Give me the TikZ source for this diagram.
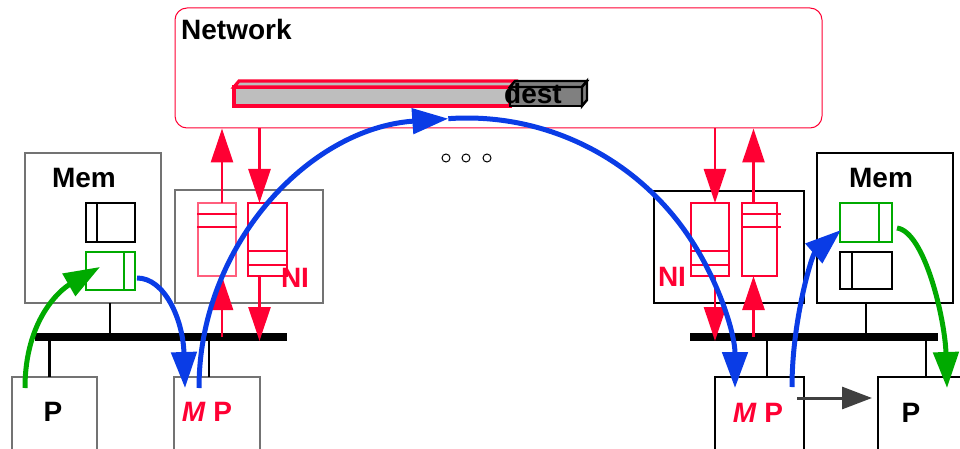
\documentclass[tikz,border=0pt]{standalone}
\usepackage{fontspec}
\setmainfont{Liberation Sans}
\definecolor{netred}{RGB}{255,0,51}
\definecolor{palered}{RGB}{255,95,125}
\definecolor{msgblue}{RGB}{10,60,230}
\definecolor{memgreen}{RGB}{0,170,0}
\definecolor{bargray}{RGB}{190,190,190}
\definecolor{destgray}{RGB}{128,128,128}
\usetikzlibrary{arrows.meta,calc}

\begin{document}
\begin{tikzpicture}[x=1pt,y=-1pt,
    unit/.style={draw=black,line width=2.4pt,inner sep=0pt,outer sep=0pt},
    faint/.style={unit,draw=black!55,line width=1.3pt},
    queue/.style={draw=netred,line width=2.6pt,minimum height=73,inner sep=0pt,outer sep=0pt},
    qline/.style={netred,line width=2.8pt},
    lbl/.style={font=\fontsize{28}{32}\selectfont\bfseries,inner sep=0pt},
    redarr/.style={netred,line width=2.6pt,-{Triangle[length=34pt,width=22pt]}},
    bluearr/.style={msgblue,line width=5pt,-{Triangle[length=36pt,width=25pt]}},
    greenarr/.style={memgreen,line width=5pt,-{Triangle[length=36pt,width=25pt]}},
    bus/.style={line width=8pt},
    stub/.style={line width=2.4pt}]
  \useasboundingbox (0,0) rectangle (960,449);

  % network
  \node[draw=netred,line width=1pt,rounded corners=12pt,minimum width=647,minimum height=120] (net) at (498.5,68) {};
  \node[lbl,anchor=west] (nettxt) at (181,29) {Network};
  \draw[netred,line width=3.2pt,fill=bargray] (234,87) rectangle (510,106);
  \draw[netred,line width=3.2pt,fill=bargray] (234,87) -- (239,81) -- (515,81) -- (510,87) -- cycle;
  \draw[line width=2.4pt,fill=destgray] (510,87) rectangle (582,106);
  \draw[line width=2.4pt,fill=destgray] (510,87) -- (515,81) -- (587,81) -- (582,87) -- cycle;
  \draw[line width=2.4pt,fill=destgray] (582,87) -- (587,81) -- (587,100) -- (582,106) -- cycle;
  \node[lbl] (dest) at (533,93) {dest};
  \foreach \x in {446,466,487}
    \draw[line width=1pt] (\x,158) circle[radius=4];

  % left node
  \node[faint,minimum width=136,minimum height=150] (memL) at (93,228) {};
  \node[lbl] (memLtxt) at (84,178) {Mem};
  \node[unit,minimum width=49,minimum height=39] (bufL) at (110.5,222.5) {};
  \draw[line width=2.4pt] ([xshift=11]bufL.north west) -- ([xshift=11]bufL.south west);
  \node[unit,draw=memgreen,minimum width=49,minimum height=38] (grnL) at (110.5,271) {};
  \draw[memgreen,line width=2.4pt] ([xshift=-11]grnL.north east) -- ([xshift=-11]grnL.south east);

  \node[faint,minimum width=148,minimum height=113] (niL) at (249,246.5) {};
  \node[queue,draw=palered,line width=1.6pt,minimum width=38] (qLout) at (217,239.5) {};
  \draw[qline] ($(qLout.north west)+(-1,11)$) -- ($(qLout.north east)+(1,11)$);
  \draw[qline] ($(qLout.north west)+(-1,24)$) -- ($(qLout.north east)+(1,24)$);
  \node[queue,minimum width=39] (qLin) at (267.5,239.5) {};
  \draw[qline] ($(qLin.south west)+(0,-25)$) -- ($(qLin.south east)+(0,-25)$);
  \draw[qline] ($(qLin.south west)+(0,-11)$) -- ($(qLin.south east)+(0,-11)$);
  \node[lbl,text=netred] (niLtxt) at (295,278) {NI};

  \draw[bus] (35,337) coordinate (busL0) -- (287,337) coordinate (busL1);
  \node[faint,minimum width=85,minimum height=75] (pL) at (54.5,414.5) {};
  \node[lbl] (pLtxt) at (53,412) {P};
  \node[faint,minimum width=86,minimum height=75] (mpL) at (217,414.5) {};
  \node[lbl,text=netred] (mpLtxt) at (207,412) {\textit{M} P};
  \draw[stub] ([xshift=17]memL.south) -- ([xshift=17]memL.south |- busL0);
  \draw[stub] ([xshift=-5]pL.north) -- ([xshift=-5]pL.north |- busL0);
  \draw[stub] ([xshift=-8]mpL.north) -- ([xshift=-8]mpL.north |- busL0);

  \draw[redarr] ([xshift=5]qLout.north) -- ([xshift=5]qLout.north |- net.south);
  \draw[redarr] ([xshift=5]qLout.south |- busL0) -- ([xshift=5]qLout.south);
  \draw[redarr] ([xshift=-8]qLin.north |- net.south) -- ([xshift=-8]qLin.north);
  \draw[redarr] ([xshift=-8]qLin.south) -- ([xshift=-8,yshift=-4]qLin.south |- busL0);

  % right node
  \node[unit,minimum width=136,minimum height=150] (memR) at (885,228) {};
  \node[lbl] (memRtxt) at (881,178) {Mem};
  \node[unit,draw=memgreen,minimum width=52,minimum height=39] (grnR) at (866,222.5) {};
  \draw[memgreen,line width=2.4pt] ([xshift=-13]grnR.north east) -- ([xshift=-13]grnR.south east);
  \node[unit,minimum width=52,minimum height=37] (bufR) at (866,270.5) {};
  \draw[line width=2.4pt] ([xshift=12]bufR.north west) -- ([xshift=12]bufR.south west);

  \node[unit,minimum width=150,minimum height=112] (niR) at (729,247) {};
  \node[queue,minimum width=38] (qRin) at (710,239.5) {};
  \draw[qline] ($(qRin.south west)+(0,-25)$) -- ($(qRin.south east)+(0,-25)$);
  \draw[qline] ($(qRin.south west)+(0,-11)$) -- ($(qRin.south east)+(0,-11)$);
  \node[queue,minimum width=35] (qRout) at (759.5,239.5) {};
  \draw[qline] ($(qRout.north west)+(0,11)$) -- ($(qRout.north east)+(4,11)$);
  \draw[qline] ($(qRout.north west)+(0,24)$) -- ($(qRout.north east)+(4,24)$);
  \node[lbl,text=netred] (niRtxt) at (672,277) {NI};

  \draw[bus] (690,337) coordinate (busR0) -- (938,337) coordinate (busR1);
  \node[unit,minimum width=89,minimum height=75] (mpR) at (759.5,414.5) {};
  \node[lbl,text=netred] (mpRtxt) at (758,413) {\textit{M} P};
  \node[unit,minimum width=92,minimum height=75] (pR) at (924,414.5) {};
  \node[lbl] (pRtxt) at (911,413) {P};
  \draw[stub] ([xshift=-19]memR.south) -- ([xshift=-19]memR.south |- busR0);
  \draw[stub] ([xshift=7.5]mpR.north) -- ([xshift=7.5]mpR.north |- busR0);
  \draw[stub] ([xshift=2]pR.north) -- ([xshift=2]pR.north |- busR0);

  \draw[redarr] ([xshift=5]qRin.north |- net.south) -- ([xshift=5]qRin.north);
  \draw[redarr] ([xshift=5]qRin.south) -- ([xshift=5,yshift=-4]qRin.south |- busR0);
  \draw[redarr] ([xshift=-6]qRout.south |- busR0) -- ([xshift=-6]qRout.south);
  \draw[redarr] ([xshift=-6]qRout.north) -- ([xshift=-6]qRout.north |- net.south);

  \draw[line width=3pt,black!75,-{Triangle[length=30pt,width=22pt]}]
    ($(mpR.east)+(-7,-16.5)$) -- ($(pR.west)+(-6,-16.5)$);

  % message path
  \draw[greenarr] ($(pL.north)+(-29.5,11)$) .. controls +(0,-68) and +(-40,23) .. ($(grnL.west)+(14,-4)$);
  \draw[bluearr] ($(grnL.east)+(2,7)$) .. controls +(28,0) and +(-2,-68) .. ($(mpL.north)+(-32,11)$);
  \draw[bluearr] ($(mpL.north)+(-18,11)$) arc[start angle=180,end angle=266,x radius=268,y radius=270] coordinate (apex);
  \draw[bluearr] (apex) arc[start angle=266,end angle=360,x radius=268,y radius=270];
  \draw[bluearr] ($(mpR.north)+(32.5,10)$) .. controls +(0,-67) and +(-29,25) .. ($(grnR.west)+(1,7.5)$);
  \draw[greenarr] ($(grnR.east)+(5,5.5)$) .. controls +(28,4) and +(-2,-68) .. ($(pR.north)+(23,11)$);
\end{tikzpicture}
\end{document}
